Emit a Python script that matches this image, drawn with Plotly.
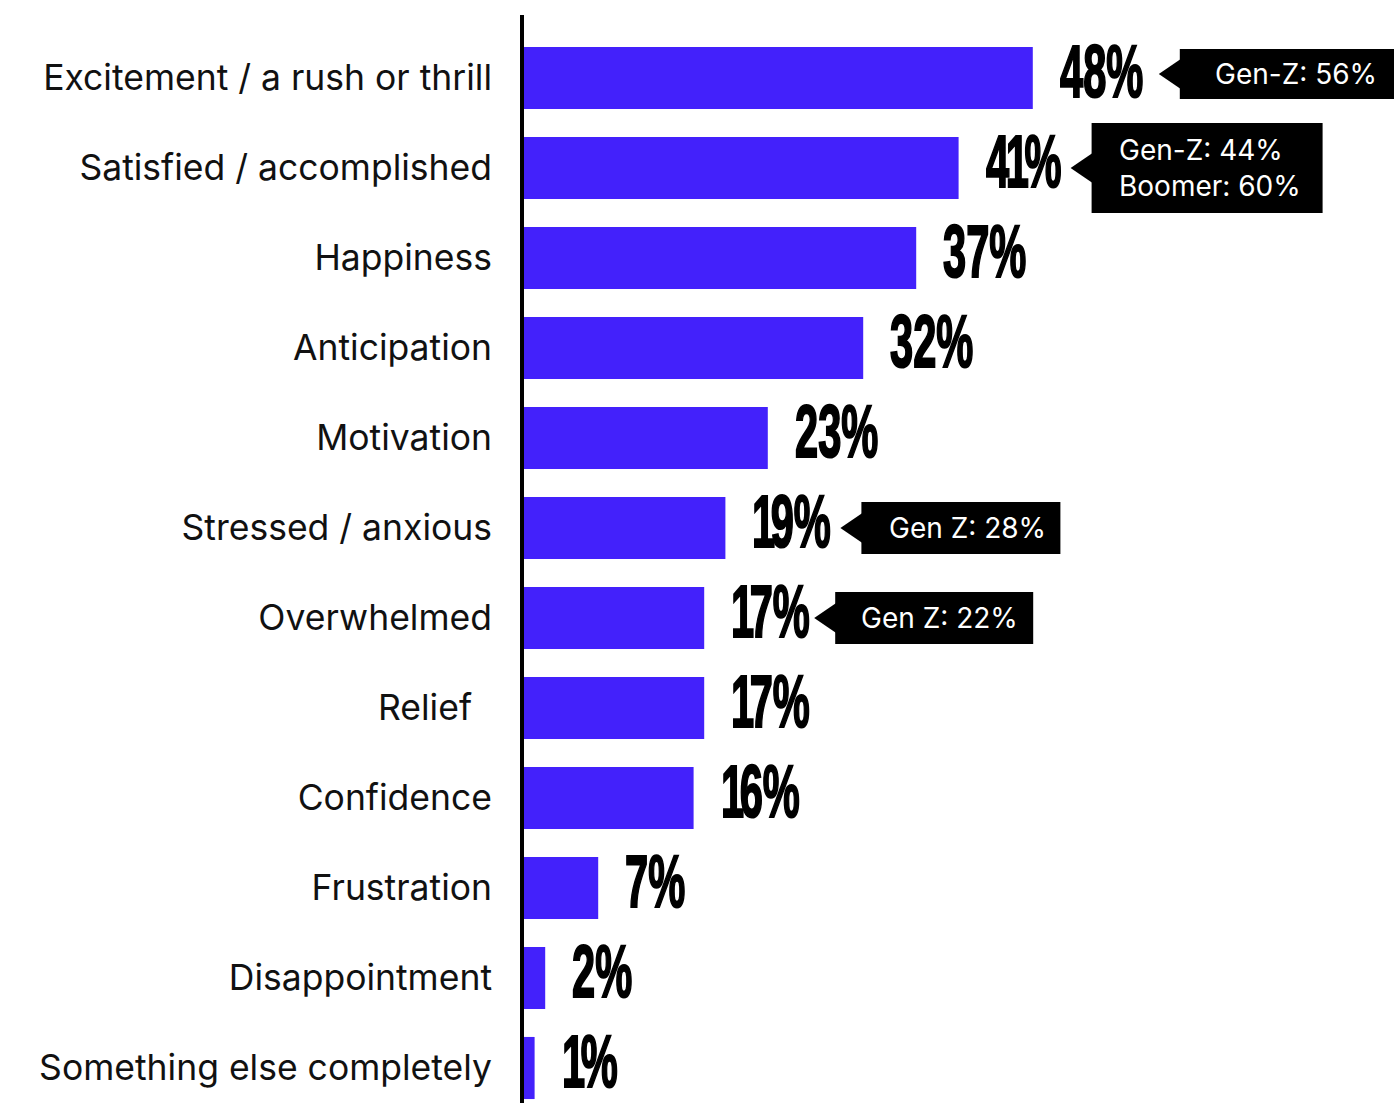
import plotly.graph_objects as go

# Survey responses: feelings reported, share of respondents (%)
categories = [
    "Excitement / a rush or thrill",
    "Satisfied / accomplished",
    "Happiness",
    "Anticipation",
    "Motivation",
    "Stressed / anxious",
    "Overwhelmed",
    "Relief\u00a0\u00a0",
    "Confidence",
    "Frustration",
    "Disappointment",
    "Something else completely",
]
values = [48, 41, 37, 32, 23, 19, 17, 17, 16, 7, 2, 1]

# Generational call-outs attached to some bars
callout_rows = [0, 1, 5, 6]
callout_texts = ["Gen-Z: 56%", "Gen-Z: 44%<br>Boomer: 60%", "Gen Z: 28%", "Gen Z: 22%"]

# Call-out box geometry in pixels, relative to the bar end
callout_left = [147, 133, 136, 131]
callout_width = [230, 231, 199, 198]
callout_height = [50, 90, 52, 52]
callout_pad = [33, 25, 26, 24]
callout_dy = [4, 0, 0, 0]

BAR = "#4321FB"
LABEL_FONT = "Inter, 'Open Sans', sans-serif"
VALUE_FONT = "'Liberation Sans', Arial, sans-serif"

W, H = 1394, 1103
LEFT, TOP = 524, 15
PX_PER_PCT = 10.6
PITCH = 90.0
first_center = 78

y_top = -(first_center - TOP) / PITCH
y_bottom = y_top + (H - TOP) / PITCH


def value_text(v):
    # tighten the spacing around a "1" so the figures set proportionally
    s = f"{v}%"
    out = []
    for k, ch in enumerate(s):
        nxt = s[k + 1] if k + 1 < len(s) else ""
        if ch == "1":
            out.append('<span style="letter-spacing:-8px">1</span>')
        elif nxt == "1":
            out.append(f'<span style="letter-spacing:-6px">{ch}</span>')
        else:
            out.append(ch)
    return "".join(out)


fig = go.Figure(
    go.Bar(
        x=values,
        y=list(range(len(categories))),
        orientation="h",
        marker=dict(color=BAR, line=dict(width=0)),
        width=0.69,
        hoverinfo="skip",
    )
)

annotations = []
# value labels at the end of each bar (narrowed afterwards in the page script)
for i, v in enumerate(values):
    annotations.append(dict(
        x=v, y=i, xref="x", yref="y",
        text=value_text(v), showarrow=False,
        xanchor="left", yanchor="middle", xshift=25, yshift=7,
        font=dict(family=VALUE_FONT, size=75, color="#000000", weight="bold"),
    ))

shapes = [
    # vertical baseline at zero
    dict(type="rect", xref="paper", yref="paper", xsizemode="pixel", xanchor=0,
         x0=-4, x1=0, y0=0, y1=1, fillcolor="#000000", line=dict(width=0), layer="above"),
]

for row, txt, lft, wd, ht, pad, dy in zip(callout_rows, callout_texts, callout_left,
                                         callout_width, callout_height, callout_pad, callout_dy):
    v = values[row]
    shapes.append(dict(
        type="rect", xref="x", yref="y", xsizemode="pixel", ysizemode="pixel",
        xanchor=v, yanchor=row, x0=lft, x1=lft + wd, y0=dy - ht / 2, y1=dy + ht / 2,
        fillcolor="#000000", line=dict(width=0),
    ))
    tip = lft - 21
    shapes.append(dict(
        type="path", xref="x", yref="y", xsizemode="pixel", ysizemode="pixel",
        xanchor=v, yanchor=row,
        path=f"M {tip},{dy} L {lft + 1},{dy + 15} L {lft + 1},{dy - 15} Z",
        fillcolor="#000000", line=dict(width=0),
    ))
    annotations.append(dict(
        x=v, y=row, xref="x", yref="y", text=txt, showarrow=False,
        xanchor="left", yanchor="middle", align="left",
        xshift=lft + pad, yshift=dy,
        font=dict(family=LABEL_FONT, size=28, color="#ffffff"),
    ))

fig.update_layout(
    width=W, height=H,
    margin=dict(l=LEFT, r=0, t=TOP, b=0, pad=0),
    paper_bgcolor="#ffffff", plot_bgcolor="#ffffff",
    showlegend=False,
    bargap=0.31,
    xaxis=dict(range=[0, (W - LEFT) / PX_PER_PCT], visible=False, fixedrange=True),
    yaxis=dict(
        range=[y_bottom, y_top],
        tickmode="array",
        tickvals=list(range(len(categories))),
        ticktext=categories,
        showgrid=False, zeroline=False, showline=False,
        ticks="", ticklabelstandoff=31,
        tickfont=dict(family=LABEL_FONT, size=35.5, color="#111111"),
        fixedrange=True,
    ),
    shapes=shapes,
    annotations=annotations,
)

# Condensed, heavy look for the percentage labels
n_values = len(values)
post_js = (
    "var gd = document.getElementById('{plot_id}');"
    "function narrowValues(){"
    "gd.querySelectorAll('g.annotation').forEach(function(g){"
    "var idx = parseInt(g.getAttribute('data-index'), 10);"
    "if (idx < " + str(n_values) + ") {"
    "var t = g.querySelector('text');"
    "if (!t) return;"
    "t.style.transformBox = 'fill-box';"
    "t.style.transformOrigin = '0% 50%';"
    "t.style.transform = 'scaleX(0.555)';"
    "t.style.stroke = '#000';"
    "t.style.strokeWidth = '2.2px';"
    "}});}"
    "narrowValues();"
    "gd.on('plotly_afterplot', narrowValues);"
)

fig.write_html("out.html", post_script=post_js)
